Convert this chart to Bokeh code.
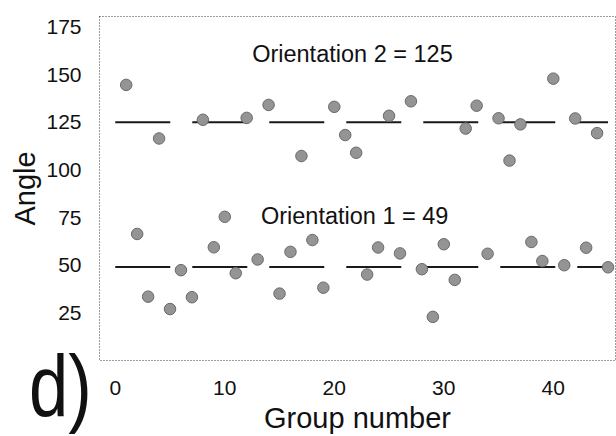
from bokeh.plotting import figure
from bokeh.layouts import column
from bokeh.models import Range1d, FixedTicker, Label, ColumnDataSource, Div
from bokeh.embed import file_html
from bokeh.resources import INLINE

FONT = "Liberation Sans"

# Measured angle per group, split by the orientation cluster it belongs to
ori1_group = [2, 3, 5, 6, 7, 9, 10, 11, 13, 15, 16, 18, 19, 23, 24, 26,
              28, 29, 30, 31, 34, 38, 39, 41, 43, 45]
ori1_angle = [66.4, 33.5, 27.0, 47.4, 33.2, 59.4, 75.4, 45.8, 53.0, 35.1,
              57.0, 63.2, 38.2, 45.1, 59.3, 56.2, 47.9, 22.9, 61.0, 42.3,
              56.0, 62.2, 52.2, 50.0, 59.2, 48.9]

ori2_group = [1, 4, 8, 12, 14, 17, 20, 21, 22, 25, 27, 32, 33, 35, 36, 37,
              40, 42, 44]
ori2_angle = [144.6, 116.5, 126.3, 127.3, 134.1, 107.3, 133.1, 118.3, 109.0,
              128.4, 136.0, 121.7, 133.7, 127.1, 104.9, 123.9, 147.9, 127.0,
              119.3]

# Mean orientation of each cluster
ori1_mean = 49
ori2_mean = 125

x_ticks = [0, 10, 20, 30, 40]
y_ticks = [25, 50, 75, 100, 125, 150, 175]

n_groups = len(ori1_group) + len(ori2_group)

p = figure(width=616, height=436, output_backend="svg", toolbar_location=None,
           x_range=Range1d(-1.44, 45.68), y_range=Range1d(0, 180.5),
           min_border_left=99, min_border_right=1, min_border_top=16,
           min_border_bottom=74)

p.background_fill_color = "white"
p.border_fill_color = "white"
p.grid.visible = False
p.outline_line_color = "#3a3a3a"
p.outline_line_dash = "1 2"
p.outline_line_width = 1

for ax in (p.xaxis, p.yaxis):
    ax.axis_line_color = None
    ax.major_tick_line_color = None
    ax.minor_tick_line_color = None
    ax.major_label_text_font = FONT
    ax.major_label_text_font_size = "21px"
    ax.major_label_text_color = "#111111"
    ax.axis_label_text_font = FONT
    ax.axis_label_text_font_size = "29px"
    ax.axis_label_text_font_style = "normal"
    ax.axis_label_text_color = "#111111"

p.xaxis.ticker = FixedTicker(ticks=x_ticks)
p.yaxis.ticker = FixedTicker(ticks=y_ticks)
p.xaxis.major_label_standoff = 14
p.yaxis.major_label_standoff = 12
p.xaxis.axis_label = "Group number"
p.yaxis.axis_label = "Angle"
p.xaxis.axis_label_standoff = 4
p.yaxis.axis_label_standoff = 2

# Cluster means as dashed horizontal lines across all groups
for m in (ori1_mean, ori2_mean):
    p.line(x=[0, n_groups], y=[m, m], line_width=2, line_color="#1a1a1a",
           line_dash="55 22")

src1 = ColumnDataSource(dict(x=ori1_group, y=ori1_angle))
src2 = ColumnDataSource(dict(x=ori2_group, y=ori2_angle))
for src in (src1, src2):
    p.scatter("x", "y", source=src, size=11.5, fill_color="#949494",
              line_color="#6a6a6a", line_width=1)

p.add_layout(Label(x=12.5, y=161, text=f"Orientation 2 = {ori2_mean}",
                   text_font=FONT, text_font_size="23.5px",
                   text_baseline="middle", text_color="#111111"))
p.add_layout(Label(x=13.3, y=76, text=f"Orientation 1 = {ori1_mean}",
                   text_font=FONT, text_font_size="23.5px",
                   text_baseline="middle", text_color="#111111"))

# Panel letter, lifted into the figure's lower-left margin
letter = Div(text="d)", width=80, height=90, margin=(-81, 0, 0, 29),
             styles={"font-family": FONT, "font-size": "72px",
                     "line-height": "1", "color": "#111111",
                     "position": "relative", "z-index": "10",
                     "transform": "scale(0.98, 1.2)",
                     "transform-origin": "0px 61px"})

page = column(p, letter)

open("out.html", "w").write(file_html(page, INLINE))
